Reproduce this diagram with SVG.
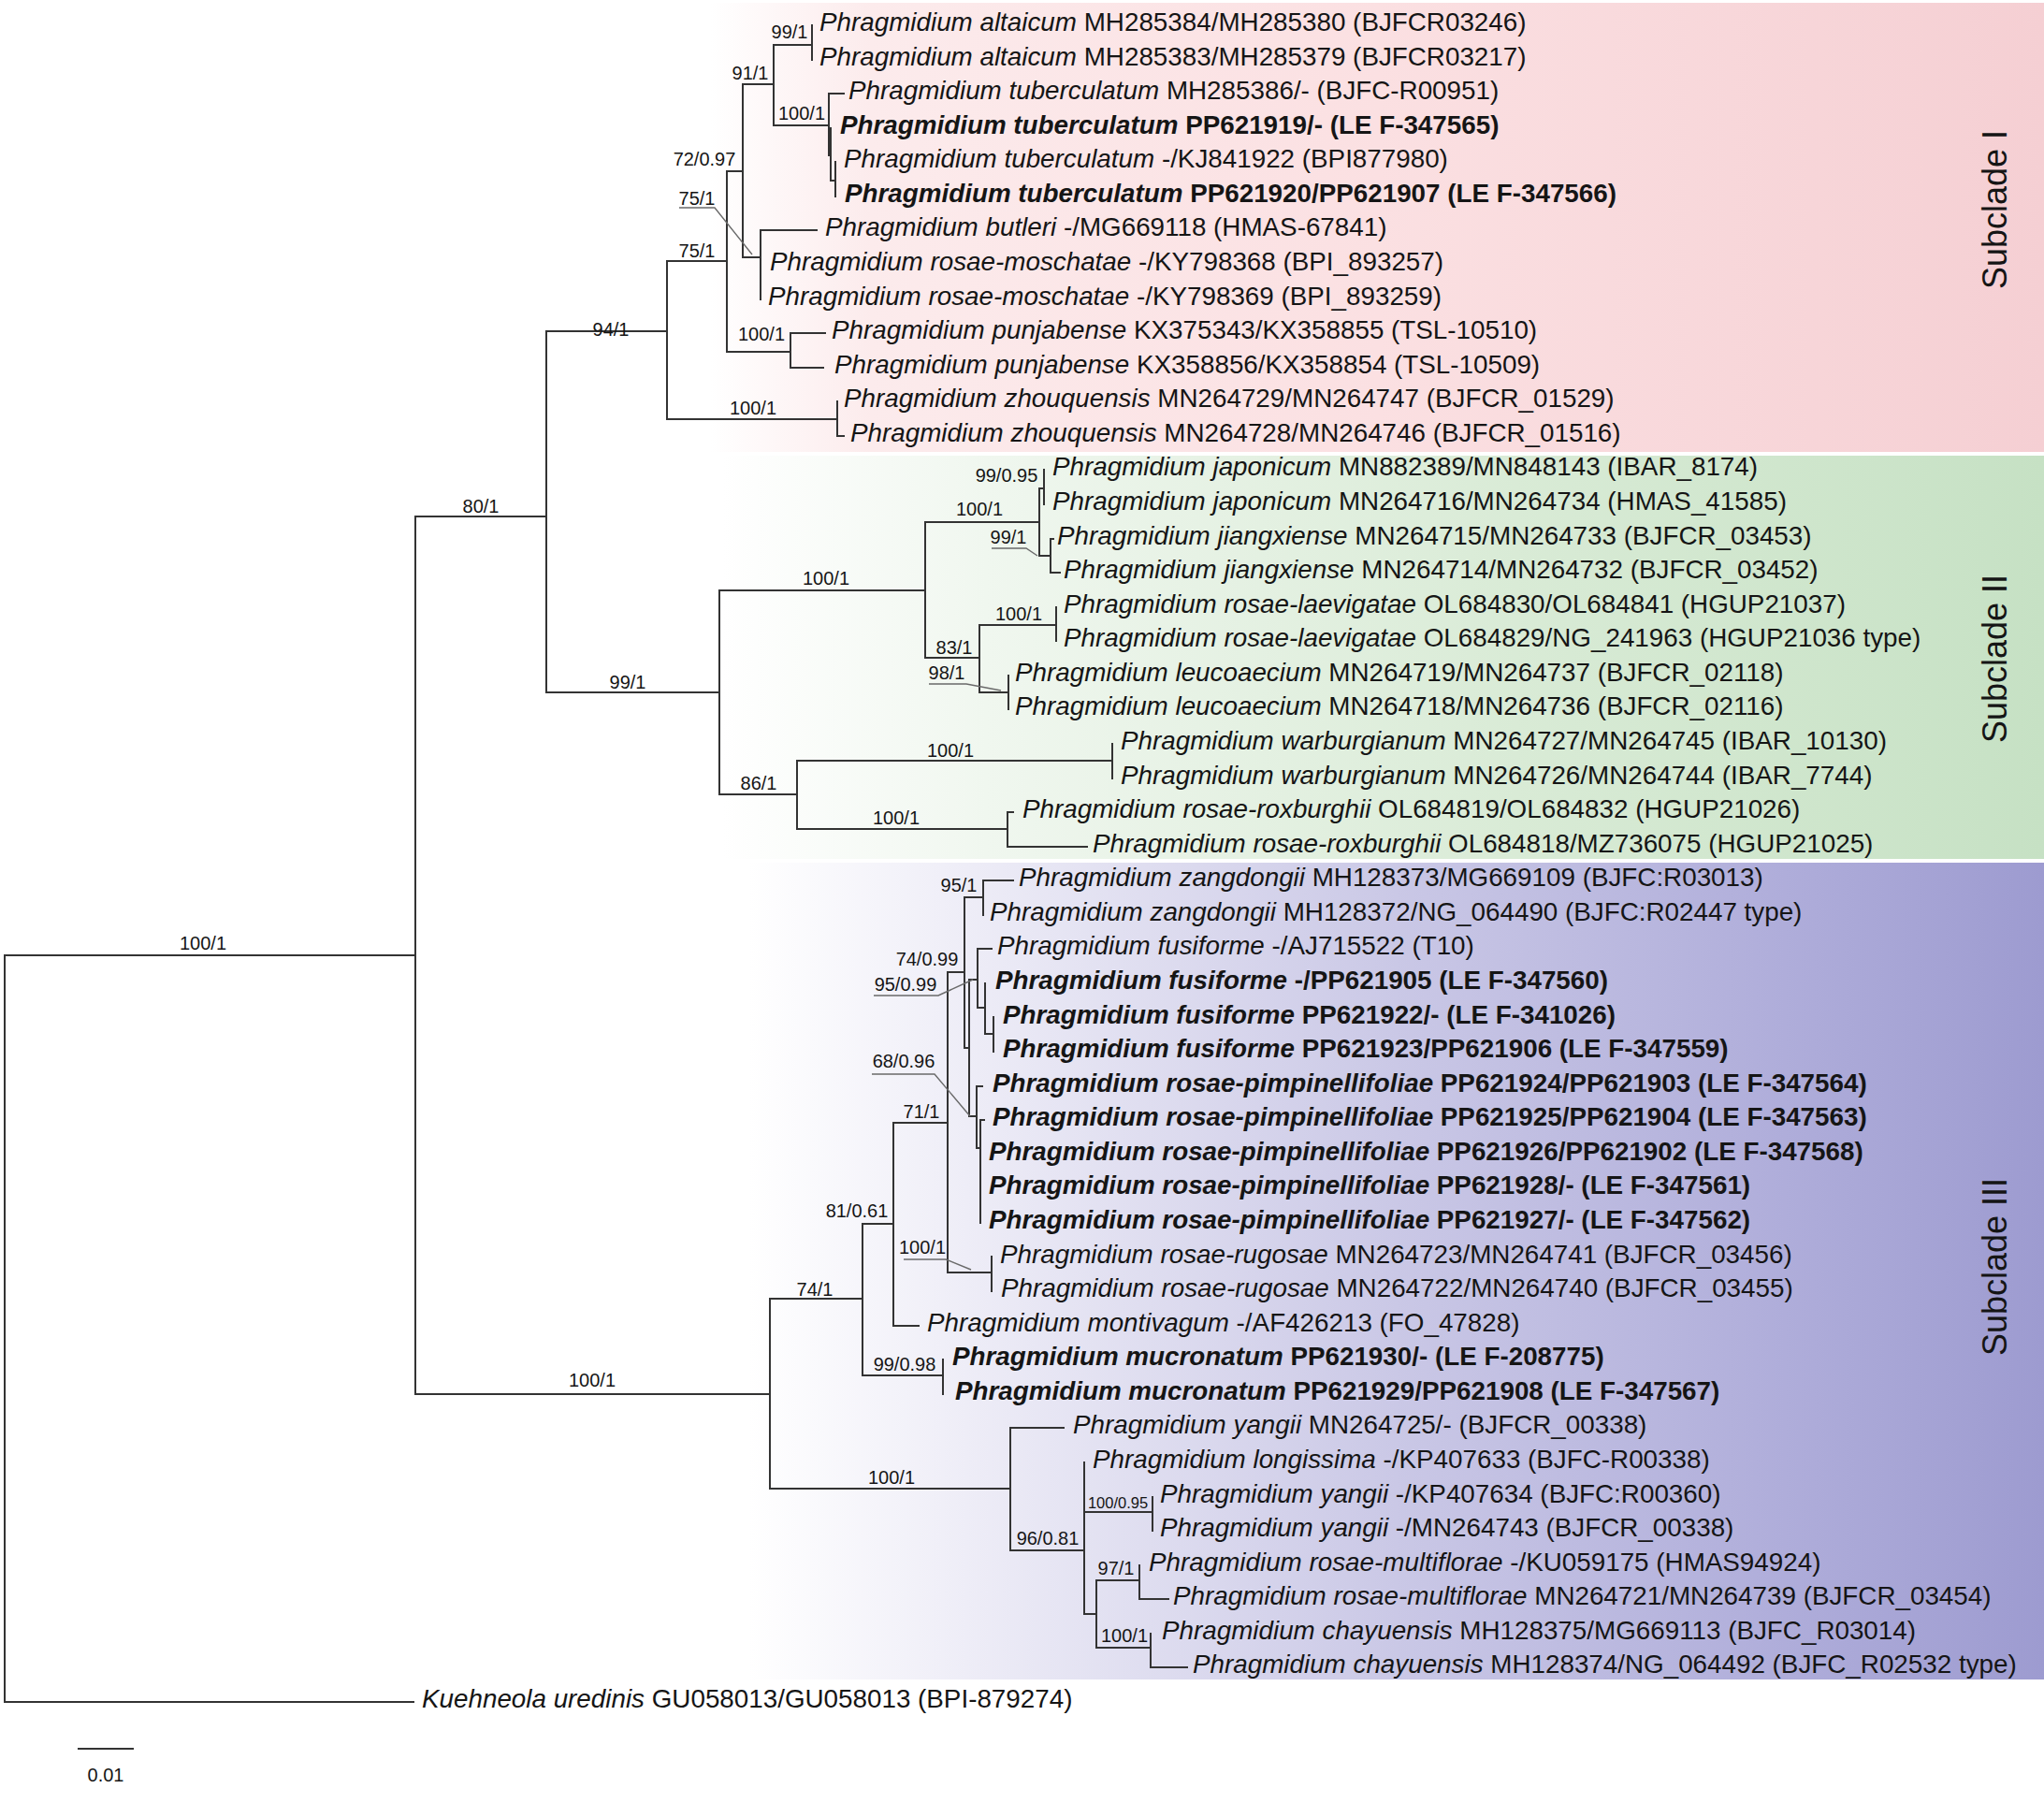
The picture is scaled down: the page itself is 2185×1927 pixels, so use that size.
<svg xmlns="http://www.w3.org/2000/svg" width="2185" height="1927" viewBox="0 0 2185 1927">
<style>
.lab{font-family:"Liberation Sans",Arial,sans-serif;font-size:27.8px;fill:#151515}
.it{font-style:italic}
.b{font-weight:bold}
.sup{font-family:"Liberation Sans",Arial,sans-serif;font-size:20px;fill:#151515;text-anchor:middle}
.sm{font-size:16.5px}
.br{fill:none;stroke:#333;stroke-width:2;stroke-linecap:square}
.ld{fill:none;stroke:#6a6a6a;stroke-width:1.4}
.clade{font-family:"Liberation Sans",Arial,sans-serif;font-size:36px;fill:#151515;text-anchor:middle}
</style>
<defs>
<linearGradient id="gI" x1="0" y1="0" x2="1" y2="0">
<stop offset="0" stop-color="#ffffff"/><stop offset="0.12" stop-color="#fcebec"/><stop offset="0.5" stop-color="#fbe0e2"/><stop offset="1" stop-color="#f5cfd3"/>
</linearGradient>
<linearGradient id="gII" x1="0" y1="0" x2="1" y2="0">
<stop offset="0" stop-color="#ffffff"/><stop offset="0.2" stop-color="#f0f7ef"/><stop offset="0.6" stop-color="#d9ebd6"/><stop offset="1" stop-color="#c6e1c4"/>
</linearGradient>
<linearGradient id="gIII" x1="0" y1="0" x2="1" y2="0">
<stop offset="0" stop-color="#ffffff"/><stop offset="0.15" stop-color="#f0eff8"/><stop offset="0.5" stop-color="#cac8e6"/><stop offset="0.8" stop-color="#afadda"/><stop offset="1" stop-color="#9d9bd0"/>
</linearGradient>
</defs>
<rect width="2185" height="1927" fill="#ffffff"/>
<g id="backgrounds">
<rect x="760" y="3" width="1425" height="480" fill="url(#gI)"/>
<rect x="772" y="487" width="1413" height="431" fill="url(#gII)"/>
<rect x="800" y="922" width="1385" height="873" fill="url(#gIII)"/>
</g>
<g id="connectors">
<path class="br" d="M5,1021 H444 M5,1021 V1819 H442 M444,552 V1490 M444,552 H584 M584,354 V740
M584,354 H713 M713,279 V448 M713,279 H777 M777,183 V376 M777,183 H794 M794,90 V275
M794,90 H827 M827,48 V134 M827,48 H868 M868,27 V64
M827,134 H886 M886,100 V166 M886,100 H902 M886,166 H888 M888,137 V193 M888,193 H893 M893,173 V210
M794,275 H813 M813,246 V320 M813,246 H873
M777,376 H845 M845,356 V393 M845,356 H882 M845,393 H880
M713,448 H895 M895,429 V466 M895,466 H902"/>
<path class="br" d="M584,740 H769 M769,631 V849 M769,631 H989 M989,558 V703 M989,558 H1111 M1111,522 V594
M1111,522 H1116 M1116,502 V539 M1111,594 H1123 M1123,576 V612 M1123,576 H1126 M1123,612 H1133
M989,703 H1047 M1047,668 V740 M1047,668 H1129 M1129,649 V685 M1047,740 H1078 M1078,722 V758
M769,849 H852 M852,813 V886 M852,813 H1189 M1189,795 V832
M852,886 H1077 M1077,868 V905 M1077,868 H1083 M1077,905 H1162"/>
<path class="br" d="M444,1490 H823 M823,1388 V1591 M823,1388 H922 M922,1308 V1470
M922,1308 H955 M955,1200 V1417 M955,1417 H982 M922,1470 H1008 M1008,1453 V1490
M955,1200 H1013 M1013,1039 V1360 M1013,1360 H1060 M1060,1343 V1380
M1013,1039 H1031 M1031,959 V1120 M1031,959 H1051 M1051,941 V978 M1051,941 H1083
M1031,1120 H1036 M1036,1047 V1193 M1036,1047 H1045 M1045,1014 V1077 M1045,1014 H1060
M1045,1077 H1053 M1053,1051 V1105 M1053,1105 H1062 M1062,1087 V1124
M1036,1193 H1044 M1044,1161 V1227 M1044,1161 H1050 M1044,1227 H1048 M1048,1197 V1307 M1048,1197 H1052
M823,1591 H1080 M1080,1526 V1657 M1080,1526 H1137 M1080,1657 H1159 M1159,1563 V1725
M1159,1616 H1232 M1232,1600 V1636 M1159,1725 H1172 M1172,1689 V1761
M1172,1689 H1218 M1218,1673 V1709 M1218,1709 H1249 M1172,1761 H1230 M1230,1746 V1782 M1230,1782 H1269"/>
<path class="ld" d="M726,222 H764 L804,272 M1060,586 H1097 L1109,594 M993,731 H1033 L1070,738 M934,1064 H1003 L1040,1047 M932,1148 H999 L1037,1193 M966,1346 H1011 L1038,1357"/>
<path class="br" d="M84,1869 H142"/>
</g>
<g id="support">
<text class="sup" x="844" y="41">99/1</text>
<text class="sup" x="802" y="85">91/1</text>
<text class="sup" x="857" y="128">100/1</text>
<text class="sup" x="753" y="177">72/0.97</text>
<text class="sup" x="745" y="219">75/1</text>
<text class="sup" x="745" y="275">75/1</text>
<text class="sup" x="653" y="359">94/1</text>
<text class="sup" x="814" y="364">100/1</text>
<text class="sup" x="805" y="443">100/1</text>
<text class="sup" x="514" y="548">80/1</text>
<text class="sup" x="671" y="736">99/1</text>
<text class="sup" x="883" y="625">100/1</text>
<text class="sup" x="1047" y="551">100/1</text>
<text class="sup" x="1076" y="515">99/0.95</text>
<text class="sup" x="1078" y="581">99/1</text>
<text class="sup" x="1089" y="663">100/1</text>
<text class="sup" x="1020" y="699">83/1</text>
<text class="sup" x="1012" y="726">98/1</text>
<text class="sup" x="811" y="844">86/1</text>
<text class="sup" x="1016" y="809">100/1</text>
<text class="sup" x="958" y="881">100/1</text>
<text class="sup" x="217" y="1015">100/1</text>
<text class="sup" x="1025" y="953">95/1</text>
<text class="sup" x="991" y="1032">74/0.99</text>
<text class="sup" x="968" y="1059">95/0.99</text>
<text class="sup" x="966" y="1141">68/0.96</text>
<text class="sup" x="985" y="1195">71/1</text>
<text class="sup" x="916" y="1301">81/0.61</text>
<text class="sup" x="986" y="1340">100/1</text>
<text class="sup" x="871" y="1385">74/1</text>
<text class="sup" x="967" y="1465">99/0.98</text>
<text class="sup" x="633" y="1482">100/1</text>
<text class="sup" x="953" y="1586">100/1</text>
<text class="sup" x="1120" y="1651">96/0.81</text>
<text class="sup sm" x="1195" y="1612">100/0.95</text>
<text class="sup" x="1193" y="1683">97/1</text>
<text class="sup" x="1202" y="1755">100/1</text>
<text class="sup" x="113" y="1904">0.01</text>
</g>
<g id="taxa">
<g id="t01"><text class="lab" x="876" y="33"><tspan class="it">Phragmidium altaicum</tspan> MH285384/MH285380 (BJFCR03246)</text></g>
<g id="t02"><text class="lab" x="876" y="70"><tspan class="it">Phragmidium altaicum</tspan> MH285383/MH285379 (BJFCR03217)</text></g>
<g id="t03"><text class="lab" x="907" y="106"><tspan class="it">Phragmidium tuberculatum</tspan> MH285386/- (BJFC-R00951)</text></g>
<g id="t04"><text class="lab b" x="898" y="143"><tspan class="it">Phragmidium tuberculatum</tspan> PP621919/- (LE F-347565)</text></g>
<g id="t05"><text class="lab" x="902" y="179"><tspan class="it">Phragmidium tuberculatum</tspan> -/KJ841922 (BPI877980)</text></g>
<g id="t06"><text class="lab b" x="903" y="216"><tspan class="it">Phragmidium tuberculatum</tspan> PP621920/PP621907 (LE F-347566)</text></g>
<g id="t07"><text class="lab" x="882" y="252"><tspan class="it">Phragmidium butleri</tspan> -/MG669118 (HMAS-67841)</text></g>
<g id="t08"><text class="lab" x="823" y="289"><tspan class="it">Phragmidium rosae-moschatae</tspan> -/KY798368 (BPI_893257)</text></g>
<g id="t09"><text class="lab" x="821" y="326"><tspan class="it">Phragmidium rosae-moschatae</tspan> -/KY798369 (BPI_893259)</text></g>
<g id="t10"><text class="lab" x="889" y="362"><tspan class="it">Phragmidium punjabense</tspan> KX375343/KX358855 (TSL-10510)</text></g>
<g id="t11"><text class="lab" x="892" y="399"><tspan class="it">Phragmidium punjabense</tspan> KX358856/KX358854 (TSL-10509)</text></g>
<g id="t12"><text class="lab" x="902" y="435"><tspan class="it">Phragmidium zhouquensis</tspan> MN264729/MN264747 (BJFCR_01529)</text></g>
<g id="t13"><text class="lab" x="909" y="472"><tspan class="it">Phragmidium zhouquensis</tspan> MN264728/MN264746 (BJFCR_01516)</text></g>
<g id="t14"><text class="lab" x="1125" y="508"><tspan class="it">Phragmidium japonicum</tspan> MN882389/MN848143 (IBAR_8174)</text></g>
<g id="t15"><text class="lab" x="1125" y="545"><tspan class="it">Phragmidium japonicum</tspan> MN264716/MN264734 (HMAS_41585)</text></g>
<g id="t16"><text class="lab" x="1130" y="582"><tspan class="it">Phragmidium jiangxiense</tspan> MN264715/MN264733 (BJFCR_03453)</text></g>
<g id="t17"><text class="lab" x="1137" y="618"><tspan class="it">Phragmidium jiangxiense</tspan> MN264714/MN264732 (BJFCR_03452)</text></g>
<g id="t18"><text class="lab" x="1137" y="655"><tspan class="it">Phragmidium rosae-laevigatae</tspan> OL684830/OL684841 (HGUP21037)</text></g>
<g id="t19"><text class="lab" x="1137" y="691"><tspan class="it">Phragmidium rosae-laevigatae</tspan> OL684829/NG_241963 (HGUP21036 type)</text></g>
<g id="t20"><text class="lab" x="1085" y="728"><tspan class="it">Phragmidium leucoaecium</tspan> MN264719/MN264737 (BJFCR_02118)</text></g>
<g id="t21"><text class="lab" x="1085" y="764"><tspan class="it">Phragmidium leucoaecium</tspan> MN264718/MN264736 (BJFCR_02116)</text></g>
<g id="t22"><text class="lab" x="1198" y="801"><tspan class="it">Phragmidium warburgianum</tspan> MN264727/MN264745 (IBAR_10130)</text></g>
<g id="t23"><text class="lab" x="1198" y="838"><tspan class="it">Phragmidium warburgianum</tspan> MN264726/MN264744 (IBAR_7744)</text></g>
<g id="t24"><text class="lab" x="1093" y="874"><tspan class="it">Phragmidium rosae-roxburghii</tspan> OL684819/OL684832 (HGUP21026)</text></g>
<g id="t25"><text class="lab" x="1168" y="911"><tspan class="it">Phragmidium rosae-roxburghii</tspan> OL684818/MZ736075 (HGUP21025)</text></g>
<g id="t26"><text class="lab" x="1089" y="947"><tspan class="it">Phragmidium zangdongii</tspan> MH128373/MG669109 (BJFC:R03013)</text></g>
<g id="t27"><text class="lab" x="1058" y="984"><tspan class="it">Phragmidium zangdongii</tspan> MH128372/NG_064490 (BJFC:R02447 type)</text></g>
<g id="t28"><text class="lab" x="1066" y="1020"><tspan class="it">Phragmidium fusiforme</tspan> -/AJ715522 (T10)</text></g>
<g id="t29"><text class="lab b" x="1064" y="1057"><tspan class="it">Phragmidium fusiforme</tspan> -/PP621905 (LE F-347560)</text></g>
<g id="t30"><text class="lab b" x="1072" y="1094"><tspan class="it">Phragmidium fusiforme</tspan> PP621922/- (LE F-341026)</text></g>
<g id="t31"><text class="lab b" x="1072" y="1130"><tspan class="it">Phragmidium fusiforme</tspan> PP621923/PP621906 (LE F-347559)</text></g>
<g id="t32"><text class="lab b" x="1061" y="1167"><tspan class="it">Phragmidium rosae-pimpinellifoliae</tspan> PP621924/PP621903 (LE F-347564)</text></g>
<g id="t33"><text class="lab b" x="1061" y="1203"><tspan class="it">Phragmidium rosae-pimpinellifoliae</tspan> PP621925/PP621904 (LE F-347563)</text></g>
<g id="t34"><text class="lab b" x="1057" y="1240"><tspan class="it">Phragmidium rosae-pimpinellifoliae</tspan> PP621926/PP621902 (LE F-347568)</text></g>
<g id="t35"><text class="lab b" x="1057" y="1276"><tspan class="it">Phragmidium rosae-pimpinellifoliae</tspan> PP621928/- (LE F-347561)</text></g>
<g id="t36"><text class="lab b" x="1057" y="1313"><tspan class="it">Phragmidium rosae-pimpinellifoliae</tspan> PP621927/- (LE F-347562)</text></g>
<g id="t37"><text class="lab" x="1069" y="1350"><tspan class="it">Phragmidium rosae-rugosae</tspan> MN264723/MN264741 (BJFCR_03456)</text></g>
<g id="t38"><text class="lab" x="1070" y="1386"><tspan class="it">Phragmidium rosae-rugosae</tspan> MN264722/MN264740 (BJFCR_03455)</text></g>
<g id="t39"><text class="lab" x="991" y="1423"><tspan class="it">Phragmidium montivagum</tspan> -/AF426213 (FO_47828)</text></g>
<g id="t40"><text class="lab b" x="1018" y="1459"><tspan class="it">Phragmidium mucronatum</tspan> PP621930/- (LE F-208775)</text></g>
<g id="t41"><text class="lab b" x="1021" y="1496"><tspan class="it">Phragmidium mucronatum</tspan> PP621929/PP621908 (LE F-347567)</text></g>
<g id="t42"><text class="lab" x="1147" y="1532"><tspan class="it">Phragmidium yangii</tspan> MN264725/- (BJFCR_00338)</text></g>
<g id="t43"><text class="lab" x="1168" y="1569"><tspan class="it">Phragmidium longissima</tspan> -/KP407633 (BJFC-R00338)</text></g>
<g id="t44"><text class="lab" x="1240" y="1606"><tspan class="it">Phragmidium yangii</tspan> -/KP407634 (BJFC:R00360)</text></g>
<g id="t45"><text class="lab" x="1240" y="1642"><tspan class="it">Phragmidium yangii</tspan> -/MN264743 (BJFCR_00338)</text></g>
<g id="t46"><text class="lab" x="1228" y="1679"><tspan class="it">Phragmidium rosae-multiflorae</tspan> -/KU059175 (HMAS94924)</text></g>
<g id="t47"><text class="lab" x="1254" y="1715"><tspan class="it">Phragmidium rosae-multiflorae</tspan> MN264721/MN264739 (BJFCR_03454)</text></g>
<g id="t48"><text class="lab" x="1242" y="1752"><tspan class="it">Phragmidium chayuensis</tspan> MH128375/MG669113 (BJFC_R03014)</text></g>
<g id="t49"><text class="lab" x="1275" y="1788"><tspan class="it">Phragmidium chayuensis</tspan> MH128374/NG_064492 (BJFC_R02532 type)</text></g>
<g id="t50"><text class="lab" x="451" y="1825"><tspan class="it">Kuehneola uredinis</tspan> GU058013/GU058013 (BPI-879274)</text></g>
</g>
<g id="clades">
<text class="clade" transform="translate(2145,224) rotate(-90)">Subclade I</text>
<text class="clade" transform="translate(2145,704) rotate(-90)">Subclade II</text>
<text class="clade" transform="translate(2145,1354) rotate(-90)">Subclade III</text>
</g>
</svg>
